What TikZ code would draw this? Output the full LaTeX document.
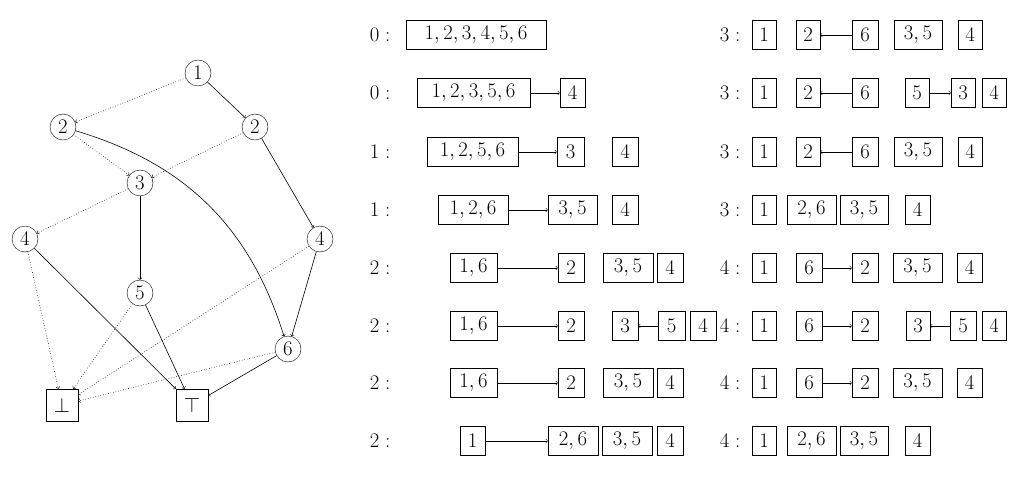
\documentclass[tikz,border=0pt]{standalone}
\usetikzlibrary{arrows}
\newcommand\bx[5]{\node[bx,minimum width={#3-#2}] (#1) at ({(#2+#3)/2},#4) {$#5$};}
\newcommand\lb[3]{\node[lbl] (#1) at (#2,#3) {$#1:$};}
\begin{document}
\begin{tikzpicture}[x=1pt,y=-1pt,font=\fontsize{20}{24}\selectfont,
  gn/.style={circle,draw,inner sep=0pt,minimum size=26pt},
  tb/.style={rectangle,draw,inner sep=0pt,minimum size=32pt},
  bx/.style={rectangle,draw,inner sep=0pt,minimum height=29pt},
  lbl/.style={anchor=center,inner sep=0pt},
  sol/.style={->,semithick},
  dot/.style={->,dotted,semithick}]
\useasboundingbox (0,0) rectangle (1024,478);
% graph
\node[gn] (n1) at (198,73) {$1$};
\node[gn] (n2l) at (63,127) {$2$};
\node[gn] (n2r) at (255,127) {$2$};
\node[gn] (n3) at (140,183) {$3$};
\node[gn] (n4l) at (25,239) {$4$};
\node[gn] (n4r) at (320,239) {$4$};
\node[gn] (n5) at (140,293) {$5$};
\node[gn] (n6) at (288,349) {$6$};
\node[tb] (bot) at (62,405) {$\bot$};
\node[tb] (top) at (192,405) {$\top$};
\draw[sol] (n1)--(n2r);
\draw[sol] (n2r)--(n4r);
\draw[sol] (n4r)--(n6);
\draw[sol] (n2l) to[bend left=28] (n6);
\draw[sol] (n3)--(n5);
\draw[sol] (n4l)--(top);
\draw[sol] (n5)--(top);
\draw[sol] (n6)--(top);
\draw[dot] (n1)--(n2l);
\draw[dot] (n2l)--(n3);
\draw[dot] (n2r)--(n3);
\draw[dot] (n3)--(n4l);
\draw[dot] (n4l)--(bot);
\draw[dot] (n5)--(bot);
\draw[dot] (n4r)--(bot);
\draw[dot] (n6)--(bot);
% left column
\node[lbl] (l0) at (380,35) {$0:$};
\node[lbl] (l1) at (380,93) {$0:$};
\node[lbl] (l2) at (380,152) {$1:$};
\node[lbl] (l3) at (380,210) {$1:$};
\node[lbl] (l4) at (380,268) {$2:$};
\node[lbl] (l5) at (380,326) {$2:$};
\node[lbl] (l6) at (380,383) {$2:$};
\node[lbl] (l7) at (380,441) {$2:$};
\bx{a0}{406}{546}{35}{1,2,3,4,5,6}
\bx{a1}{417}{530}{93}{1,2,3,5,6}\bx{b1}{560}{585}{93}{4}\draw[sol] (a1)--(b1);
\bx{a2}{427}{518}{152}{1,2,5,6}\bx{b2}{557}{584}{152}{3}\bx{c2}{612}{638}{152}{4}\draw[sol] (a2)--(b2);
\bx{a3}{438}{508}{210}{1,2,6}\bx{b3}{548}{597}{210}{3,5}\bx{c3}{612}{638}{210}{4}\draw[sol] (a3)--(b3);
\bx{a4}{450}{497}{268}{1,6}\bx{b4}{558}{584}{268}{2}\bx{c4}{603}{653}{268}{3,5}\bx{d4}{657}{683}{268}{4}\draw[sol] (a4)--(b4);
\bx{a5}{450}{497}{326}{1,6}\bx{b5}{558}{584}{326}{2}\bx{c5}{612}{638}{326}{3}\bx{d5}{658}{685}{326}{5}\bx{e5}{690}{716}{326}{4}\draw[sol] (a5)--(b5);\draw[sol] (d5)--(c5);
\bx{a6}{450}{497}{383}{1,6}\bx{b6}{558}{584}{383}{2}\bx{c6}{603}{653}{383}{3,5}\bx{d6}{657}{683}{383}{4}\draw[sol] (a6)--(b6);
\bx{a7}{460}{485}{441}{1}\bx{b7}{548}{598}{441}{2,6}\bx{c7}{602}{652}{441}{3,5}\bx{d7}{657}{683}{441}{4}\draw[sol] (a7)--(b7);
% right column
\node[lbl] (r0) at (730,35) {$3:$};
\node[lbl] (r1) at (730,93) {$3:$};
\node[lbl] (r2) at (730,152) {$3:$};
\node[lbl] (r3) at (730,210) {$3:$};
\node[lbl] (r4) at (730,268) {$4:$};
\node[lbl] (r5) at (730,326) {$4:$};
\node[lbl] (r6) at (730,383) {$4:$};
\node[lbl] (r7) at (730,441) {$4:$};
\bx{p0}{752}{776}{35}{1}\bx{q0}{796}{820}{35}{2}\bx{s0}{852}{878}{35}{6}\bx{t0}{894}{942}{35}{3,5}\bx{u0}{958}{982}{35}{4}\draw[sol] (s0)--(q0);
\bx{p1}{752}{776}{93}{1}\bx{q1}{796}{820}{93}{2}\bx{s1}{852}{878}{93}{6}\bx{t1}{905}{929}{93}{5}\bx{u1}{951}{975}{93}{3}\bx{v1}{982}{1006}{93}{4}\draw[sol] (s1)--(q1);\draw[sol] (t1)--(u1);
\bx{p2}{752}{776}{152}{1}\bx{q2}{796}{820}{152}{2}\bx{s2}{852}{878}{152}{6}\bx{t2}{894}{942}{152}{3,5}\bx{u2}{958}{982}{152}{4}\draw[sol] (s2)--(q2);
\bx{p3}{752}{776}{210}{1}\bx{q3}{787}{836}{210}{2,6}\bx{s3}{840}{888}{210}{3,5}\bx{t3}{905}{930}{210}{4}
\bx{p4}{752}{776}{268}{1}\bx{q4}{796}{822}{268}{6}\bx{s4}{852}{878}{268}{2}\bx{t4}{893}{942}{268}{3,5}\bx{u4}{957}{982}{268}{4}\draw[sol] (q4)--(s4);
\bx{p5}{752}{776}{326}{1}\bx{q5}{796}{822}{326}{6}\bx{s5}{852}{878}{326}{2}\bx{t5}{906}{930}{326}{3}\bx{u5}{950}{976}{326}{5}\bx{v5}{982}{1006}{326}{4}\draw[sol] (q5)--(s5);\draw[sol] (u5)--(t5);
\bx{p6}{752}{776}{383}{1}\bx{q6}{796}{822}{383}{6}\bx{s6}{852}{878}{383}{2}\bx{t6}{893}{942}{383}{3,5}\bx{u6}{957}{982}{383}{4}\draw[sol] (q6)--(s6);
\bx{p7}{752}{776}{441}{1}\bx{q7}{787}{836}{441}{2,6}\bx{s7}{840}{888}{441}{3,5}\bx{t7}{905}{930}{441}{4}
\end{tikzpicture}
\end{document}
